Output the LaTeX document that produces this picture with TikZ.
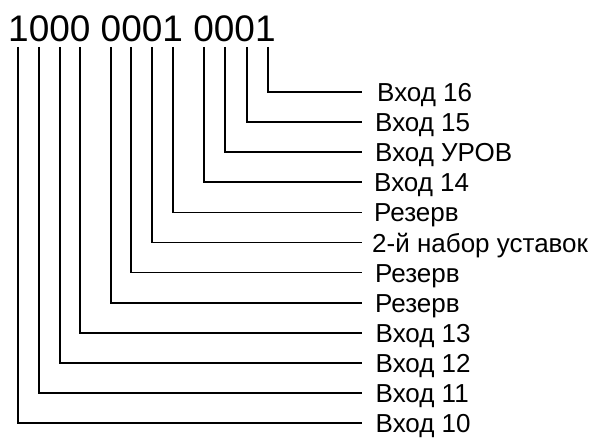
\documentclass[tikz,border=0pt]{standalone}
\usepackage{fontspec}
\setmainfont{Liberation Sans}
\begin{document}
\begin{tikzpicture}[x=1pt,y=-1pt,
  wire/.style={line width=1.6pt, line join=miter},
  lbl/.style={anchor=west, inner xsep=13pt, inner ysep=0pt, text height=21pt, text depth=2pt,
    font=\fontsize{26}{26}\selectfont},
  code/.style={anchor=base west, inner sep=0pt, font=\fontsize{37}{37}\selectfont}]
\useasboundingbox (0,0) rectangle (599,438);
\node[code] (num) at (8,42) {1000 0001 0001};
% tops of the bit lines
\coordinate (t1) at (268,47);
\coordinate (t2) at (247,47);
\coordinate (t3) at (225,47);
\coordinate (t4) at (204,47);
\coordinate (t5) at (173,47);
\coordinate (t6) at (152,47);
\coordinate (t7) at (131,47);
\coordinate (t8) at (111,47);
\coordinate (t9) at (80,47);
\coordinate (t10) at (60,47);
\coordinate (t11) at (39,47);
\coordinate (t12) at (18,47);
% labels
\node[lbl, inner xsep=15pt] (l1) at (362,92.0) {Вход 16};
\node[lbl] (l2) at (362,122.1) {Вход 15};
\node[lbl] (l3) at (362,152.2) {Вход УРОВ};
\node[lbl, inner xsep=12pt] (l4) at (362,182.3) {Вход 14};
\node[lbl, inner xsep=12pt] (l5) at (362,212.4) {Резерв};
\node[lbl, inner xsep=10pt] (l6) at (362,242.5) {2-й набор уставок};
\node[lbl, inner xsep=13pt] (l7) at (362,272.6) {Резерв};
\node[lbl, inner xsep=13pt] (l8) at (362,302.7) {Резерв};
\node[lbl, inner xsep=13.5pt] (l9) at (362,332.8) {Вход 13};
\node[lbl, inner xsep=13.5pt] (l10) at (362,362.9) {Вход 12};
\node[lbl, inner xsep=13.5pt] (l11) at (362,393.0) {Вход 11};
\node[lbl, inner xsep=13.5pt] (l12) at (362,423.1) {Вход 10};
% connectors
\foreach \i in {1,...,12} {
  \draw[wire] (t\i) |- (l\i.west);
}
\end{tikzpicture}
\end{document}
